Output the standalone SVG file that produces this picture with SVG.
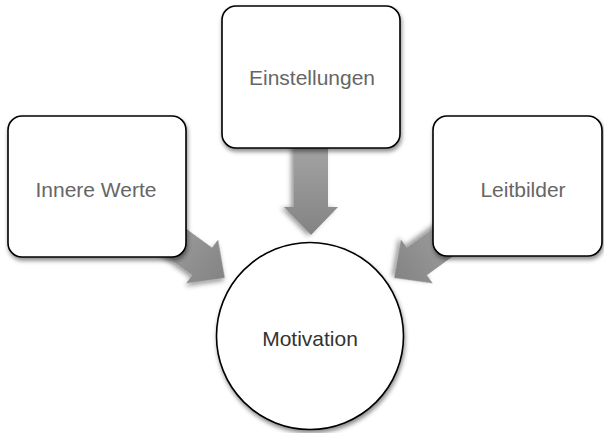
<svg xmlns="http://www.w3.org/2000/svg" width="604" height="433" viewBox="0 0 604 433">
<defs>
<filter id="sh" x="-20%" y="-20%" width="140%" height="140%">
<feDropShadow dx="1" dy="3" stdDeviation="2" flood-color="#000" flood-opacity="0.45"/>
</filter>
<filter id="ash" x="-20%" y="-20%" width="140%" height="140%">
<feDropShadow dx="1" dy="3" stdDeviation="2.5" flood-color="#000" flood-opacity="0.4"/>
</filter>
<linearGradient id="ag" x1="0" y1="0" x2="1" y2="0">
<stop offset="0" stop-color="#a4a4a4"/>
<stop offset="1" stop-color="#838383"/>
</linearGradient>
<path id="arrow" d="M0,-17 L62,-17 L62,-27 L90,0 L62,27 L62,17 L0,17 Z"/>
</defs>
<style>
.box{fill:#fff;stroke:#000;stroke-width:1.6;filter:url(#sh)}
.lbl{font-family:"Liberation Sans",Arial,sans-serif;font-size:21px;fill:#666;text-anchor:middle}
.main{fill:#333}
.arr{fill:url(#ag);filter:url(#ash)}
</style>
<rect width="604" height="433" fill="#fff"/>
<g id="connectors">
<use href="#arrow" class="arr" transform="translate(311,145) rotate(90)"/>
<use href="#arrow" class="arr" transform="translate(152,225) rotate(36)"/>
<use href="#arrow" class="arr" transform="translate(467,225) rotate(144)"/>
</g>
<g id="einstellungen">
<rect class="box" x="222" y="6" width="178" height="142" rx="14"/>
<text class="lbl" x="312" y="85">Einstellungen</text>
</g>
<g id="innere-werte">
<rect class="box" x="8" y="116" width="178" height="141" rx="14"/>
<text class="lbl" x="96" y="197">Innere Werte</text>
</g>
<g id="leitbilder">
<rect class="box" x="433" y="116" width="169" height="140" rx="14"/>
<text class="lbl" x="523" y="197">Leitbilder</text>
</g>
<g id="motivation">
<circle class="box" cx="310" cy="336" r="93.5"/>
<text class="lbl main" x="310" y="346">Motivation</text>
</g>
</svg>
